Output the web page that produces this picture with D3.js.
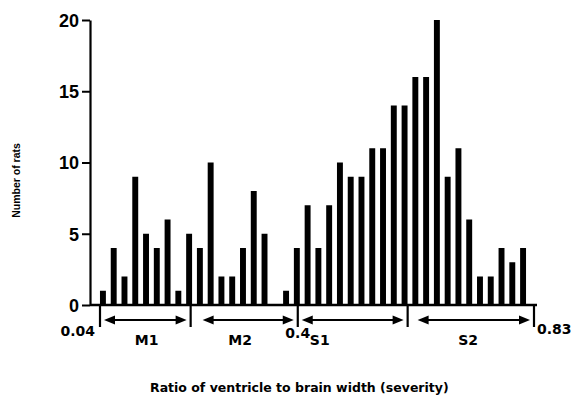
<!DOCTYPE html>
<html>
<head>
<meta charset="utf-8">
<script src="https://cdn.jsdelivr.net/npm/d3@7"></script>
<style>
  html, body { margin: 0; padding: 0; background: #fff; }
  svg { display: block; }
  text { font-family: "DejaVu Sans", sans-serif; font-weight: bold; fill: #000; }
  .arial { font-family: "Liberation Sans", Arial, Helvetica, sans-serif; }
</style>
</head>
<body>
<svg id="chart" width="576" height="406"></svg>
<script>
// ---- data ----
const bins = d3.range(40);   // 40 severity bins from 0.04 to 0.83
const counts = [1,4,2,9,5,4,6,1,5,4,10,2,2,4,8,5,0,1,4,7,4,7,10,9,9,11,11,14,14,16,16,20,9,11,6,2,2,4,3,4];
const yTicks = [0, 5, 10, 15, 20];
const groupNames = ["M1", "M2", "S1", "S2"];
const groupBounds = [0.04, 0.205, 0.4, 0.6, 0.83];
const groupLabelAt = [0.125, 0.295, 0.44, 0.71];
const ratioLabels = [
  { v: 0.04, t: "0.04" },
  { v: 0.4, t: "0.4" },
  { v: 0.83, t: "0.83" }
];
const yTitle = "Number of rats";
const xTitle = "Ratio of ventricle to brain width (severity)";

// ---- layout ----
const svg = d3.select("#chart");
const axisX = 90, baseY = 305, topY = 20;

const y = d3.scaleLinear().domain([0, 20]).range([baseY, topY]);
const xb = d3.scaleBand().domain(bins).range([97.6, 528.4]).paddingInner(0.45).paddingOuter(0.22);
const xr = d3.scaleLinear().domain([0.04, 0.83]).range([100, 534]);

// bars
svg.append("g").selectAll("rect").data(counts).join("rect")
  .attr("x", (d, i) => xb(i))
  .attr("width", xb.bandwidth())
  .attr("y", d => y(d))
  .attr("height", d => baseY - y(d))
  .attr("fill", "#000");

// y axis
const yAxis = svg.append("g").attr("transform", `translate(${axisX},0)`)
  .call(d3.axisLeft(y).tickValues(yTicks).tickSize(8).tickSizeOuter(0).tickPadding(3));
yAxis.select(".domain").attr("stroke", "#000").attr("stroke-width", 2.2);
yAxis.selectAll(".tick line").attr("stroke", "#000").attr("stroke-width", 2);
yAxis.selectAll(".tick text")
  .attr("class", "arial")
  .style("font-size", "18px").style("font-weight", "900")
  .attr("font-family", null).attr("fill", "#000").attr("dy", "0.36em");

// x baseline
svg.append("line")
  .attr("x1", axisX).attr("x2", xr(0.83) + 3)
  .attr("y1", baseY).attr("y2", baseY)
  .attr("stroke", "#000").attr("stroke-width", 2.5);

// group separators
svg.append("g").selectAll("line").data(groupBounds).join("line")
  .attr("x1", d => xr(d)).attr("x2", d => xr(d))
  .attr("y1", baseY).attr("y2", baseY + 22)
  .attr("stroke", "#000").attr("stroke-width", 2.2);

// double arrows
const arrowY = baseY + 15;
const gap = 4, head = 11, hh = 4.5;
const arrows = svg.append("g");
groupNames.forEach((g, i) => {
  const x1 = xr(groupBounds[i]) + gap + (i === 1 ? 8 : i === 3 ? 6 : 0);
  const x2 = xr(groupBounds[i + 1]) - gap;
  arrows.append("line")
    .attr("x1", x1 + head - 2).attr("x2", x2 - head + 2)
    .attr("y1", arrowY).attr("y2", arrowY)
    .attr("stroke", "#000").attr("stroke-width", 2.2);
  arrows.append("path")
    .attr("d", `M${x1},${arrowY} L${x1 + head},${arrowY - hh} L${x1 + head},${arrowY + hh} Z`)
    .attr("fill", "#000");
  arrows.append("path")
    .attr("d", `M${x2},${arrowY} L${x2 - head},${arrowY - hh} L${x2 - head},${arrowY + hh} Z`)
    .attr("fill", "#000");
});

// group labels
svg.append("g").selectAll("text").data(groupNames).join("text")
  .attr("x", (d, i) => xr(groupLabelAt[i]))
  .attr("y", baseY + 40)
  .attr("text-anchor", "middle")
  .style("font-size", "14px")
  .text(d => d);

// ratio labels
svg.append("g").selectAll("text").data(ratioLabels).join("text")
  .attr("x", d => d.v === 0.04 ? xr(d.v) - 5 : d.v === 0.83 ? xr(d.v) + 3 : xr(d.v))
  .attr("y", d => d.v === 0.83 ? baseY + 29 : d.v === 0.4 ? baseY + 33 : baseY + 31)
  .attr("text-anchor", d => d.v === 0.04 ? "end" : d.v === 0.83 ? "start" : "middle")
  .style("font-size", "14px")
  .text(d => d.t);

// axis titles
svg.append("text")
  .attr("class", "arial")
  .attr("transform", `translate(20,${(y(0) + y(20)) / 2 + 18}) rotate(-90)`)
  .attr("text-anchor", "middle")
  .style("font-size", "10.5px").style("font-weight", "900")
  .text(yTitle);

svg.append("text")
  .attr("x", 150).attr("y", 392)
  .attr("text-anchor", "start")
  .style("font-size", "12.5px")
  .text(xTitle);
</script>
</body>
</html>
